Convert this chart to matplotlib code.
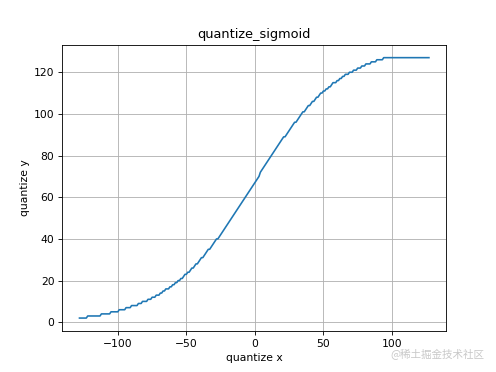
import numpy as np
import matplotlib
matplotlib.use("Agg")
import matplotlib.pyplot as plt

# int8 input range
x_vals = np.arange(-128, 128)

# quantized sigmoid output, one value per input
y_vals = [
    2, 2, 2, 2, 2, 2, 3, 3, 3, 3, 3, 3, 3, 3, 3, 3,
    4, 4, 4, 4, 4, 4, 4, 5, 5, 5, 5, 5, 5, 6, 6, 6,
    6, 6, 7, 7, 7, 7, 8, 8, 8, 8, 8, 9, 9, 9, 10, 10,
    10, 10, 11, 11, 11, 12, 12, 12, 13, 13, 13, 14, 14, 15, 15, 16,
    16, 16, 17, 17, 18, 18, 19, 19, 20, 20, 21, 21, 22, 23, 23, 24,
    24, 25, 26, 26, 27, 28, 28, 29, 30, 31, 31, 32, 33, 34, 35, 35,
    36, 37, 38, 39, 40, 40, 41, 42, 43, 44, 45, 46, 47, 48, 49, 50,
    51, 52, 53, 54, 55, 56, 57, 58, 59, 60, 61, 62, 63, 64, 65, 66,
    67, 68, 69, 70, 72, 73, 74, 75, 76, 77, 78, 79, 80, 81, 82, 83,
    84, 85, 86, 87, 88, 89, 89, 90, 91, 92, 93, 94, 95, 96, 96, 97,
    98, 99, 100, 101, 101, 102, 103, 104, 104, 105, 106, 106, 107, 108, 108, 109,
    110, 110, 111, 111, 112, 112, 113, 113, 114, 115, 115, 115, 116, 116, 117, 117,
    118, 118, 119, 119, 119, 120, 120, 120, 121, 121, 121, 122, 122, 122, 123, 123,
    123, 124, 124, 124, 124, 125, 125, 125, 125, 126, 126, 126, 126, 126, 127, 127,
    127, 127, 127, 127, 127, 127, 127, 127, 127, 127, 127, 127, 127, 127, 127, 127,
    127, 127, 127, 127, 127, 127, 127, 127, 127, 127, 127, 127, 127, 127, 127, 127,
]


def main():
    fig = plt.figure(figsize=(6.4, 4.8), dpi=77.5)
    plt.plot(x_vals, y_vals)
    plt.title("quantize_sigmoid")
    plt.xlabel("quantize x")
    plt.ylabel("quantize y")
    plt.grid()

    # site watermark
    fig.text(0.788, 0.046, "@稀土掘金技术社区", fontsize=9.8, color="#c8c8c8",
             family=["Noto Sans CJK SC", "DejaVu Sans"], ha="left", va="center")

    plt.savefig("out.png")


if __name__ == "__main__":
    main()
